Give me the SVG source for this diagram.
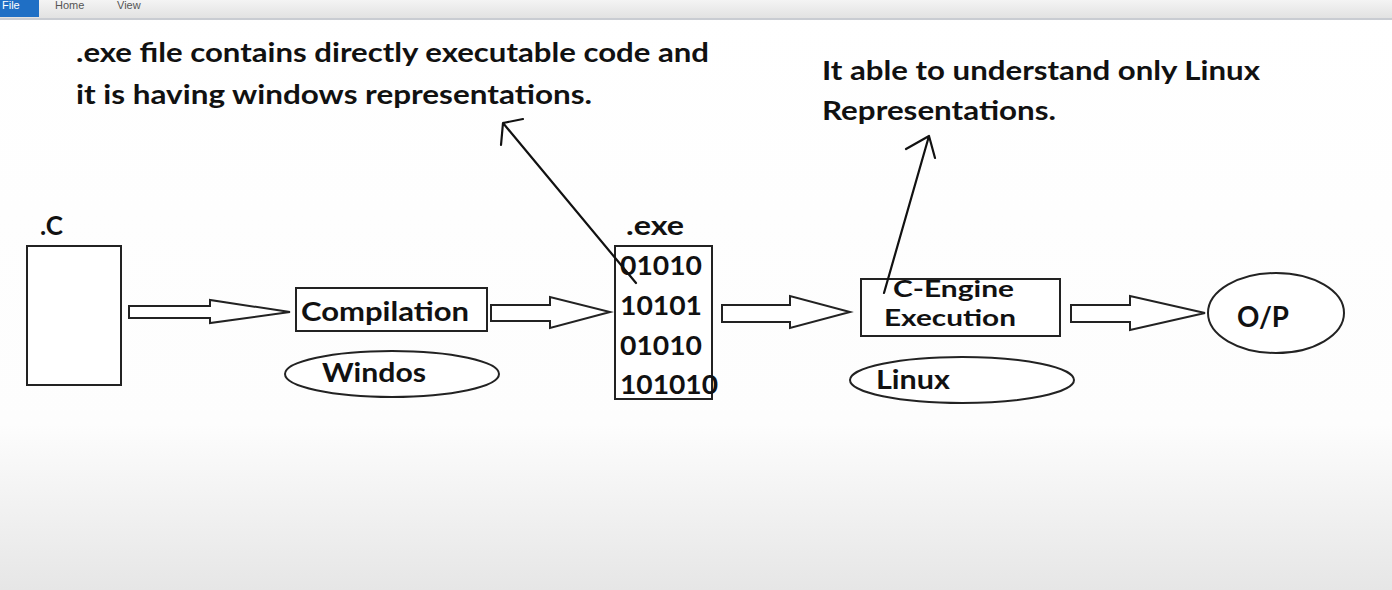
<svg xmlns="http://www.w3.org/2000/svg" width="1392" height="590" viewBox="0 0 1392 590">
<defs>
<linearGradient id="bg" x1="0" y1="0" x2="0" y2="1">
<stop offset="0" stop-color="#ffffff"/>
<stop offset="0.72" stop-color="#fdfdfd"/>
<stop offset="1" stop-color="#e6e6e6"/>
</linearGradient>
<linearGradient id="bar" x1="0" y1="0" x2="0" y2="1">
<stop offset="0" stop-color="#f4f4f4"/>
<stop offset="1" stop-color="#e2e2e2"/>
</linearGradient>
</defs>
<style>
text{font-family:Lato,"Open Sans","Liberation Sans",sans-serif;font-weight:bold;fill:#111}
.t{font-size:26px}
.n{font-size:26px}
.s{font-size:22px}
.box{fill:#fff;stroke:#222;stroke-width:2}
.blk{fill:#fff;stroke:#222;stroke-width:2;stroke-linejoin:miter}
.ln{fill:none;stroke:#111;stroke-width:2.2;stroke-linecap:round}
</style>
<rect x="0" y="0" width="1392" height="590" fill="url(#bg)"/>
<g id="toolbar">
<rect x="0" y="0" width="1392" height="18" fill="url(#bar)"/>
<rect x="0" y="18" width="1392" height="2" fill="#c9ccd2"/>
<rect x="0" y="0" width="39" height="17" fill="#1f6fc5"/>
<text x="2" y="9" style="font-family:'Liberation Sans',sans-serif;font-weight:normal;font-size:11px;fill:#fff">File</text>
<text x="55" y="9" style="font-family:'Liberation Sans',sans-serif;font-weight:normal;font-size:11px;fill:#555">Home</text>
<text x="117" y="9" style="font-family:'Liberation Sans',sans-serif;font-weight:normal;font-size:11px;fill:#555">View</text>
</g>
<g id="note-exe">
<text class="t" x="76" y="62" textLength="633" lengthAdjust="spacingAndGlyphs">.exe file contains directly executable code and</text>
<text class="t" x="76" y="104" textLength="516" lengthAdjust="spacingAndGlyphs">it is having windows representations.</text>
</g>
<g id="note-linux">
<text class="t" x="822" y="80" textLength="438" lengthAdjust="spacingAndGlyphs">It able to understand only Linux</text>
<text class="t" x="822" y="120" textLength="234" lengthAdjust="spacingAndGlyphs">Representations.</text>
</g>
<g id="node-c">
<text class="n" x="40" y="235">.C</text>
<rect class="box" x="27" y="246" width="94" height="139"/>
</g>
<g id="node-compilation">
<rect class="box" x="296" y="288" width="191" height="43"/>
<text class="n" x="301" y="321" textLength="168" lengthAdjust="spacingAndGlyphs">Compilation</text>
</g>
<g id="node-windos">
<ellipse class="box" cx="392" cy="374" rx="107" ry="23"/>
<text class="n" x="322" y="382" textLength="104" lengthAdjust="spacingAndGlyphs">Windos</text>
</g>
<g id="node-exe">
<text class="n" x="626" y="235" textLength="58" lengthAdjust="spacingAndGlyphs">.exe</text>
<rect class="box" x="615" y="246" width="97" height="153"/>
<text class="n" x="620" y="275" textLength="82" lengthAdjust="spacingAndGlyphs">01010</text>
<text class="n" x="620" y="315" textLength="82" lengthAdjust="spacingAndGlyphs">10101</text>
<text class="n" x="620" y="355" textLength="82" lengthAdjust="spacingAndGlyphs">01010</text>
<text class="n" x="620" y="394" textLength="98" lengthAdjust="spacingAndGlyphs">101010</text>
</g>
<g id="node-cengine">
<rect class="box" x="861" y="279" width="199" height="57"/>
<text class="s" x="893" y="297" textLength="121" lengthAdjust="spacingAndGlyphs">C-Engine</text>
<text class="s" x="884" y="326" textLength="132" lengthAdjust="spacingAndGlyphs">Execution</text>
</g>
<g id="node-linux">
<ellipse class="box" cx="962" cy="380" rx="112" ry="23"/>
<text class="n" x="876" y="389" textLength="74" lengthAdjust="spacingAndGlyphs">Linux</text>
</g>
<g id="node-op">
<ellipse class="box" cx="1276" cy="313" rx="68" ry="40"/>
<text x="1237" y="327" style="font-size:29px" textLength="52" lengthAdjust="spacingAndGlyphs">O/P</text>
</g>
<g id="connectors">
<polygon class="blk" points="129,306 210,306 210,300 290,312 210,323 210,318 129,318"/>
<polygon class="blk" points="491,305 550,305 550,297 610,312 550,328 550,321 491,321"/>
<polygon class="blk" points="722,305 790,305 790,296 850,312 790,328 790,322 722,322"/>
<polygon class="blk" points="1071,305 1130,305 1130,296 1205,313 1130,330 1130,322 1071,322"/>
<path class="ln" d="M636,283 L503,123 M503,123 L523,119 M503,123 L501,145"/>
<path class="ln" d="M884,293 L929,136 M929,136 L906,149 M929,136 L935,158"/>
</g>
</svg>
